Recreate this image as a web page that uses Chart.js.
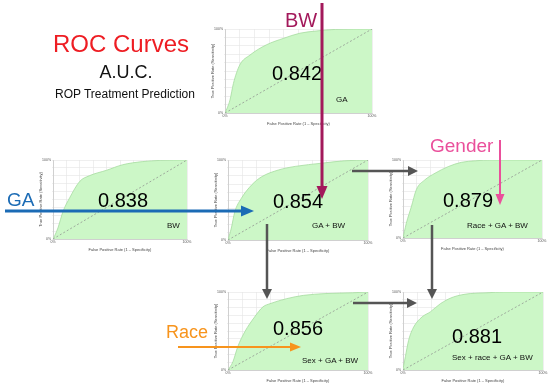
<!DOCTYPE html>
<html>
<head>
<meta charset="utf-8">
<script src="https://cdn.jsdelivr.net/npm/chart.js@4"></script>
<style>
  html, body { margin: 0; padding: 0; background: #fff; }
  #stage { position: relative; width: 550px; height: 387px; overflow: hidden; font-family: "Liberation Sans", Arial, Helvetica, sans-serif; }
  .panel { position: absolute; }
  #overlay { position: absolute; left: 0; top: 0; z-index: 5; }
</style>
</head>
<body>
<div id="stage">
  <svg id="overlay" width="550" height="387" xmlns="http://www.w3.org/2000/svg"></svg>
</div>
<script>
// ROC curve points (false positive rate / true positive rate)
const panelNames = ["GA", "BW", "GA + BW", "Race + GA + BW", "Sex + GA + BW", "Sex + race + GA + BW"];
const aucValues = ["0.842", "0.838", "0.854", "0.879", "0.856", "0.881"];

const fprGA = [0, 0.015, 0.034, 0.057, 0.10, 0.17, 0.28, 0.40, 0.51, 0.62, 0.75, 1];
const tprGA = [0, 0.06, 0.155, 0.35, 0.57, 0.69, 0.81, 0.89, 0.95, 0.976, 0.995, 1];

const fprBW = [0, 0.015, 0.037, 0.075, 0.124, 0.2, 0.27, 0.40, 0.52, 0.67, 0.8, 1];
const tprBW = [0, 0.05, 0.14, 0.35, 0.52, 0.73, 0.80, 0.87, 0.94, 0.98, 0.995, 1];

const fprGABW = [0, 0.01, 0.024, 0.048, 0.095, 0.17, 0.24, 0.36, 0.48, 0.67, 0.83, 1];
const tprGABW = [0, 0.06, 0.15, 0.35, 0.52, 0.69, 0.79, 0.875, 0.92, 0.96, 0.99, 1];

const fprRace = [0, 0.01, 0.024, 0.06, 0.096, 0.157, 0.23, 0.325, 0.42, 0.52, 0.64, 1];
const tprRace = [0, 0.08, 0.19, 0.40, 0.62, 0.745, 0.83, 0.915, 0.97, 0.99, 1, 1];

const fprSex = [0, 0.015, 0.036, 0.07, 0.12, 0.19, 0.25, 0.30, 0.42, 0.54, 0.70, 0.89, 1];
const tprSex = [0, 0.04, 0.11, 0.30, 0.49, 0.68, 0.81, 0.85, 0.915, 0.957, 0.98, 0.99, 1];

const fprAll = [0, 0.005, 0.017, 0.04, 0.076, 0.136, 0.195, 0.267, 0.36, 0.48, 0.6, 0.72, 1];
const tprAll = [0, 0.06, 0.17, 0.38, 0.55, 0.68, 0.745, 0.85, 0.936, 0.98, 0.99, 1, 1];

const curves = [[fprGA, tprGA], [fprBW, tprBW], [fprGABW, tprGABW], [fprRace, tprRace], [fprSex, tprSex], [fprAll, tprAll]];

// plot area of every panel: left, top, right, bottom
const boxes = [
  [225, 29, 372, 113],
  [53, 160, 187, 239],
  [228, 160, 368, 240],
  [403, 160, 542, 238],
  [228, 292, 368, 370],
  [403, 292, 543, 370]
];
// where the big AUC number and the small model name go (left x, baseline y)
const aucPos = [[272, 80], [98, 207], [273, 208], [443, 207], [273, 335], [452, 343]];
const namePos = [[336, 102], [167, 228], [312, 228], [467, 228], [302, 363], [452, 360]];

const stage = document.getElementById("stage");
const LEFT = 16, BOTTOM = 14, TOP = 4, RIGHT = 7;

boxes.forEach((b, i) => {
  const w = b[2] - b[0] + LEFT + RIGHT;
  const h = b[3] - b[1] + TOP + BOTTOM;
  const div = document.createElement("div");
  div.className = "panel";
  div.style.left = (b[0] - LEFT) + "px";
  div.style.top = (b[1] - TOP) + "px";
  div.style.width = w + "px";
  div.style.height = h + "px";
  const cv = document.createElement("canvas");
  div.appendChild(cv);
  stage.appendChild(div);

  const pts = curves[i][0].map((x, k) => ({ x: x, y: curves[i][1][k] }));
  const pctTick = v => (v === 0 ? "0%" : (Math.abs(v - 1) < 1e-9 ? "100%" : ""));

  new Chart(cv, {
    type: "line",
    data: {
      datasets: [
        {
          data: [{ x: 0, y: 0 }, { x: 1, y: 1 }],
          borderColor: "#8a8a8a",
          borderWidth: 0.7,
          borderDash: [2, 2],
          pointRadius: 0,
          fill: false
        },
        {
          data: pts,
          borderColor: "#a6dca0",
          borderWidth: 0.8,
          backgroundColor: "#ccf7c7",
          pointRadius: 0,
          cubicInterpolationMode: "monotone",
          fill: "origin"
        }
      ]
    },
    options: {
      responsive: true,
      maintainAspectRatio: false,
      animation: false,
      layout: { padding: { top: TOP, right: RIGHT, left: 0, bottom: 0 } },
      plugins: { legend: { display: false }, tooltip: { enabled: false } },
      scales: {
        x: {
          type: "linear", min: 0, max: 1,
          afterFit: s => { s.height = BOTTOM; },
          grid: { color: "#e4e4e4", lineWidth: 0.6, tickLength: 1 },
          border: { color: "#c8c8c8", width: 0.8 },
          ticks: { stepSize: 0.1, autoSkip: false, maxRotation: 0, padding: 0, font: { size: 3.5 }, color: "#555", callback: pctTick },
          title: { display: true, text: "False Positive Rate (1 \u2013 Specificity)", font: { size: 4 }, color: "#444", padding: { top: 0, bottom: 1 } }
        },
        y: {
          min: 0, max: 1,
          afterFit: s => { s.width = LEFT; },
          grid: { color: "#e4e4e4", lineWidth: 0.6, tickLength: 1 },
          border: { color: "#c8c8c8", width: 0.8 },
          ticks: { stepSize: 0.1, autoSkip: false, padding: 1, font: { size: 3.5 }, color: "#555", callback: pctTick },
          title: { display: true, text: "True Positive Rate (Sensitivity)", font: { size: 4 }, color: "#444", padding: { top: 1, bottom: 0 } }
        }
      }
    }
  });
});

// overlay: titles, numbers and arrows
const svg = document.getElementById("overlay");
const NS = "http://www.w3.org/2000/svg";

function addText(str, x, y, size, color, anchor) {
  const t = document.createElementNS(NS, "text");
  t.setAttribute("x", x);
  t.setAttribute("y", y);
  t.setAttribute("font-size", size);
  t.setAttribute("fill", color);
  t.setAttribute("font-family", "Liberation Sans, Arial, Helvetica, sans-serif");
  if (anchor) t.setAttribute("text-anchor", anchor);
  t.textContent = str;
  svg.appendChild(t);
}

function addArrow(x1, y1, x2, y2, color, width, headLen, headW) {
  const dx = x2 - x1, dy = y2 - y1;
  const len = Math.hypot(dx, dy);
  const ux = dx / len, uy = dy / len;
  const bx = x2 - ux * headLen, by = y2 - uy * headLen;
  const line = document.createElementNS(NS, "line");
  line.setAttribute("x1", x1); line.setAttribute("y1", y1);
  line.setAttribute("x2", bx); line.setAttribute("y2", by);
  line.setAttribute("stroke", color);
  line.setAttribute("stroke-width", width);
  svg.appendChild(line);
  const head = document.createElementNS(NS, "polygon");
  const px = -uy * headW / 2, py = ux * headW / 2;
  head.setAttribute("points", `${x2},${y2} ${bx + px},${by + py} ${bx - px},${by - py}`);
  head.setAttribute("fill", color);
  svg.appendChild(head);
}

addText("ROC Curves", 121, 52, 24, "#ee1d23", "middle");
addText("A.U.C.", 126, 78, 18, "#111", "middle");
addText("ROP Treatment Prediction", 125, 98, 12, "#111", "middle");

aucValues.forEach((v, i) => addText(v, aucPos[i][0], aucPos[i][1], 20, "#000"));
panelNames.forEach((n, i) => addText(n, namePos[i][0], namePos[i][1], 8, "#111"));

// grey flow arrows between the panels
const grey = "#555";
addArrow(352, 171, 418, 171, grey, 2.5, 10, 10);
addArrow(267, 224, 267, 299, grey, 2.5, 10, 10);
addArrow(432, 225, 432, 299, grey, 2.5, 10, 10);
addArrow(353, 303, 417, 303, grey, 2.5, 10, 10);

// variable arrows
addArrow(322, 3, 322, 199, "#a3195b", 3, 13, 11);
addText("BW", 301, 27, 20, "#a3195b", "middle");
addArrow(5, 211, 254, 211, "#1b6bb5", 3, 13, 11);
addText("GA", 7, 206, 19, "#1b6bb5");
addArrow(500, 140, 500, 205, "#ea4f9b", 2, 11, 9);
addText("Gender", 430, 152, 19, "#ea4f9b");
addArrow(178, 347, 301, 347, "#f7941d", 2, 11, 9);
addText("Race", 166, 338, 18, "#f7941d");
</script>
</body>
</html>
